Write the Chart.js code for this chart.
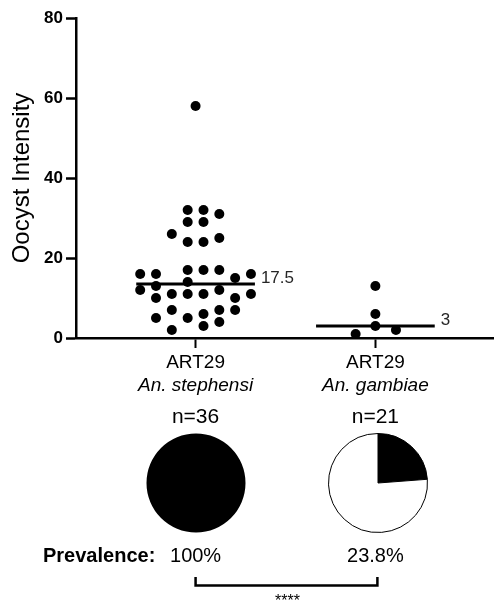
<!DOCTYPE html>
<html>
<head>
<meta charset="utf-8">
<script src="https://cdn.jsdelivr.net/npm/chart.js@4"></script>
<style>
  body { margin: 0; background: #fff; }
  #wrap { position: relative; width: 498px; height: 610px; }
  #main { position: absolute; left: 0; top: 0; width: 498px; height: 610px; }
  .pie { position: absolute; width: 110px; height: 110px; }
</style>
</head>
<body>
<div id="wrap">
  <div id="main"><canvas id="scatter"></canvas></div>
  <div class="pie" id="pieBox1"><canvas id="pie1"></canvas></div>
  <div class="pie" id="pieBox2"><canvas id="pie2"></canvas></div>
</div>
<script>
// Data
const categories = ["ART29", "ART29"];
const species = ["An. stephensi", "An. gambiae"];
const sampleSizes = [36, 21];
const prevalence = [100, 23.8];
const medianLabels = ["17.5", "3"];
const yTitle = "Oocyst Intensity";
const yTicks = [0, 20, 40, 60, 80];

// oocyst counts per infected mosquito, with the swarm column each dot sits in
const stephensiValues = [58, 32, 32, 31, 29, 29, 26, 24, 24, 25, 16, 16, 16, 17, 17, 17, 15, 14,
  12, 13, 12, 11, 11, 11, 11, 10, 10, 7, 7, 7, 5, 5, 6, 3, 4, 2];
const stephensiSlots = [0, -0.5, 0.5, 1.5, -0.5, 0.5, -1.5, -0.5, 0.5, 1.5, -3.5, -2.5, 3.5, -0.5, 0.5, 1.5, 2.5, -0.5,
  -3.5, -2.5, 1.5, -1.5, -0.5, 0.5, 3.5, -2.5, 2.5, -1.5, 1.5, 2.5, -2.5, -0.5, 0.5, 0.5, 1.5, -1.5];
const gambiaeValues = [13, 6, 3, 1, 2];
const gambiaeSlots = [0, 0, 0, -1.25, 1.3];

// style constants
const slotWidth = 0.088;
const medianHalf = 0.33;
const font = "'Liberation Sans', Arial, Helvetica, sans-serif";
Chart.defaults.font.family = font;
Chart.defaults.color = "#000";

function median(arr) {
  const s = [...arr].sort((a, b) => a - b);
  const m = Math.floor(s.length / 2);
  return s.length % 2 ? s[m] : (s[m - 1] + s[m]) / 2;
}

function toPoints(values, slots, cat) {
  return values.map((v, i) => ({ x: cat + slots[i] * slotWidth, y: v }));
}

const medians = [median(stephensiValues), median(gambiaeValues)];

// Text under the axis, prevalence row and significance bracket
const extrasPlugin = {
  id: "extras",
  afterDraw(chart) {
    const ctx = chart.ctx;
    const xs = chart.scales.x;
    const ys = chart.scales.y;
    const cx = categories.map((c, i) => xs.getPixelForValue(i + 1));
    ctx.save();
    ctx.fillStyle = "#000";
    ctx.textAlign = "center";
    ctx.textBaseline = "alphabetic";
    categories.forEach((c, i) => {
      ctx.font = "19px " + font;
      ctx.fillText(c, cx[i], 368);
      ctx.font = "italic 19px " + font;
      ctx.fillText(species[i], cx[i], 390.5);
      ctx.font = "21px " + font;
      ctx.fillText("n=" + sampleSizes[i], cx[i], 422.5);
      ctx.font = "20px " + font;
      ctx.fillText(prevalence[i] + "%", cx[i], 562);
    });
    ctx.textAlign = "left";
    ctx.font = "bold 20px " + font;
    ctx.fillText("Prevalence:", 43, 562);

    // median value labels
    ctx.fillStyle = "#262626";
    ctx.font = "17px " + font;
    medians.forEach((m, i) => {
      const x = xs.getPixelForValue(i + 1 + medianHalf) + 6;
      ctx.fillText(medianLabels[i], x, ys.getPixelForValue(m) - 1.5);
    });

    // bracket
    ctx.strokeStyle = "#000";
    ctx.lineWidth = 2.5;
    ctx.beginPath();
    ctx.moveTo(cx[0], 577);
    ctx.lineTo(cx[0], 585.5);
    ctx.lineTo(cx[1] + 2, 585.5);
    ctx.lineTo(cx[1] + 2, 577);
    ctx.stroke();
    ctx.fillStyle = "#000";
    ctx.textAlign = "center";
    ctx.font = "16px " + font;
    ctx.fillText("****", (cx[0] + cx[1]) / 2 + 2, 606);
    ctx.restore();
  }
};

const scatter = new Chart(document.getElementById("scatter"), {
  type: "scatter",
  data: {
    datasets: [
      {
        data: toPoints(stephensiValues, stephensiSlots, 1),
        backgroundColor: "#000",
        pointRadius: 5,
        borderWidth: 0,
        clip: false
      },
      {
        data: toPoints(gambiaeValues, gambiaeSlots, 2),
        backgroundColor: "#000",
        pointRadius: 5,
        borderWidth: 0,
        clip: false
      },
      ...medians.map((m, i) => ({
        type: "line",
        data: [{ x: i + 1 - medianHalf, y: m }, { x: i + 1 + medianHalf, y: m }],
        borderColor: "#000",
        borderWidth: 3,
        pointRadius: 0,
        clip: false
      }))
    ]
  },
  options: {
    responsive: true,
    maintainAspectRatio: false,
    animation: false,
    events: [],
    layout: { padding: { top: 18, right: 0, bottom: 0, left: 0 } },
    plugins: { legend: { display: false }, tooltip: { enabled: false } },
    scales: {
      x: {
        type: "linear",
        min: 0.335,
        max: 2.654,
        afterBuildTicks: (s) => { s.ticks = categories.map((c, i) => ({ value: i + 1 })); },
        afterFit: (s) => { s.height = 272; },
        ticks: { display: true, callback: () => "" },
        grid: { display: true, drawOnChartArea: false, drawTicks: true, tickLength: 10, tickWidth: 2, tickColor: "#000" },
        border: { display: true, color: "#000", width: 2.5 }
      },
      y: {
        min: 0,
        max: 80,
        afterBuildTicks: (s) => { s.ticks = yTicks.map((v) => ({ value: v })); },
        afterFit: (s) => { s.width = 76; },
        ticks: { color: "#000", padding: 3, font: { size: 17, weight: "bold" } },
        grid: { display: true, drawOnChartArea: false, drawTicks: true, tickLength: 10, tickWidth: 2.5, tickColor: "#000" },
        border: { display: true, color: "#000", width: 2.5 },
        title: { display: true, text: yTitle, color: "#000", font: { size: 24 }, padding: { top: 8, bottom: 0 } }
      }
    }
  },
  plugins: [extrasPlugin]
});

// Prevalence pies below each group
const pieY = 483;
function makePie(id, boxId, i) {
  const box = document.getElementById(boxId);
  const cx = scatter.scales.x.getPixelForValue(i + 1) + (i === 1 ? 3 : 0);
  box.style.left = (cx - 55) + "px";
  box.style.top = (pieY - 55) + "px";
  new Chart(document.getElementById(id), {
    type: "pie",
    data: {
      labels: ["infected", "uninfected"],
      datasets: [{
        data: [prevalence[i], 100 - prevalence[i]],
        backgroundColor: ["#000", "#fff"],
        borderColor: "#000",
        borderWidth: i === 0 ? 0 : 1
      }]
    },
    options: {
      responsive: true,
      maintainAspectRatio: false,
      animation: false,
      events: [],
      radius: 49.5,
      plugins: { legend: { display: false }, tooltip: { enabled: false } }
    }
  });
}
makePie("pie1", "pieBox1", 0);
makePie("pie2", "pieBox2", 1);
</script>
</body>
</html>
